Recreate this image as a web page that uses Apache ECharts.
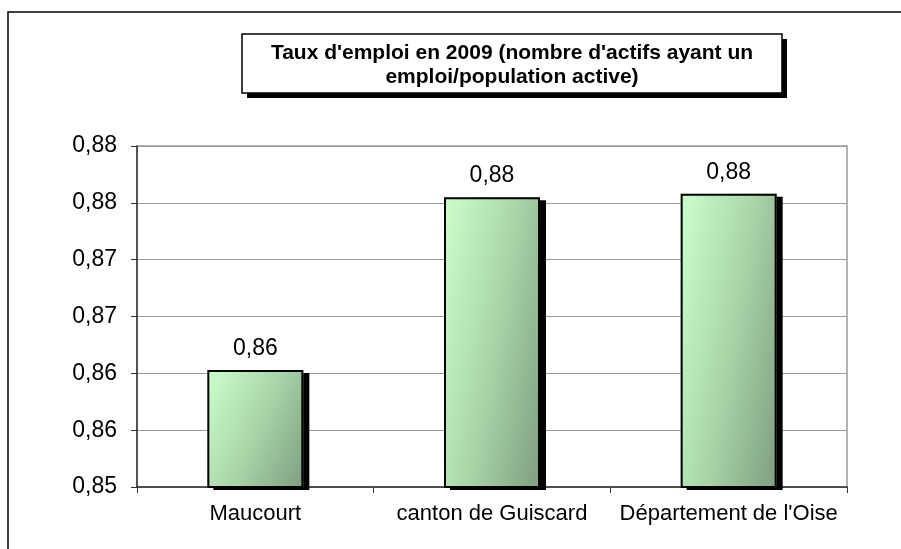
<!DOCTYPE html>
<html>
<head>
<meta charset="utf-8">
<script src="https://cdn.jsdelivr.net/npm/echarts@6/dist/echarts.min.js"></script>
<style>
  html, body { margin: 0; padding: 0; background: #fff; }
  #chart { width: 901px; height: 549px; }
</style>
</head>
<body>
<div id="chart"></div>
<script>
// données
const categories = ["Maucourt", "canton de Guiscard", "Département de l'Oise"];
const tauxEmploi = [0.8603, 0.8755, 0.8758];
const titleLines = ["Taux d'emploi en 2009 (nombre d'actifs ayant un", "emploi/population active)"];

const Y_MIN = 0.85;
const Y_MAX = 0.88;
const BAR_W = 96;
const PLOT_H = 341;

const fmt = function (v) {
  return (Math.round(v * 100 + 1e-6) / 100).toFixed(2).replace('.', ',');
};

const font = 'Liberation Sans, Arial, sans-serif';

// dégradé diagonal : clair en haut à gauche, foncé en bas à droite,
// surtout dans le sens horizontal (t ≈ 0.65*x + 0.35*y)
function barGradient(v) {
  let h = Math.max(10, (v - Y_MIN) / (Y_MAX - Y_MIN) * PLOT_H);
  let a = 0.65 / BAR_W;
  let b = 0.35 / h;
  let n = a * a + b * b;
  let dx = (a / n) / BAR_W;
  let dy = (b / n) / h;
  return new echarts.graphic.LinearGradient(0, 0, dx, dy, [
    { offset: 0, color: '#ccffcc' },
    { offset: 0.5, color: '#a9d6a9' },
    { offset: 1, color: '#7f9e7f' }
  ]);
}

let myChart = echarts.init(document.getElementById('chart'), null, { renderer: 'canvas' });

let option = {
  animation: false,
  backgroundColor: '#fff',
  graphic: [
    {
      type: 'rect',
      shape: { x: 8, y: 12, width: 1000, height: 1000 },
      style: { fill: 'none', stroke: '#000', lineWidth: 1.5 },
      z: 0
    },
    // ombre du cadre du titre
    {
      type: 'rect',
      shape: { x: 247, y: 39, width: 540, height: 59 },
      style: { fill: '#000' },
      z: 10
    },
    {
      type: 'rect',
      shape: { x: 242, y: 34, width: 540, height: 59 },
      style: { fill: '#fff', stroke: '#000', lineWidth: 1.5 },
      z: 11
    },
    {
      type: 'text',
      x: 512,
      y: 41,
      style: {
        text: titleLines.join('\n'),
        font: 'bold 21px ' + font,
        fill: '#000',
        align: 'center',
        lineHeight: 24
      },
      z: 12
    }
  ],
  grid: {
    left: 137,
    right: 54,
    top: 146,
    bottom: 62,
    show: true,
    borderColor: '#999',
    borderWidth: 1.5
  },
  xAxis: {
    type: 'category',
    data: categories,
    axisLine: { lineStyle: { color: '#333', width: 1.5 } },
    axisTick: { show: true, length: 6, alignWithLabel: false, lineStyle: { color: '#333' } },
    axisLabel: { color: '#000', fontSize: 22, fontFamily: font, margin: 16, interval: 0 }
  },
  yAxis: {
    type: 'value',
    min: Y_MIN,
    max: Y_MAX,
    interval: 0.005,
    axisLine: { show: true, lineStyle: { color: '#333', width: 1.5 } },
    axisTick: { show: true, length: 6, lineStyle: { color: '#333' } },
    splitLine: { lineStyle: { color: '#999', width: 1 } },
    axisLabel: { color: '#000', fontSize: 23, fontFamily: font, margin: 20, formatter: fmt }
  },
  series: [
    {
      // remplissage + ombre
      type: 'bar',
      data: tauxEmploi.map(function (v) {
        return { value: v, itemStyle: { color: barGradient(v) } };
      }),
      barWidth: BAR_W,
      itemStyle: {
        shadowColor: '#000',
        shadowOffsetX: 6,
        shadowOffsetY: 3,
        shadowBlur: 0
      },
      label: {
        show: true,
        position: 'top',
        distance: 10,
        color: '#000',
        fontSize: 23,
        fontFamily: font,
        formatter: function (p) { return fmt(p.value); }
      }
    },
    {
      // contour noir
      type: 'bar',
      data: tauxEmploi,
      barWidth: BAR_W,
      barGap: '-100%',
      silent: true,
      itemStyle: {
        color: 'rgba(0,0,0,0)',
        borderColor: '#000',
        borderWidth: 2
      }
    }
  ]
};

myChart.setOption(option);
window.addEventListener('resize', function () {
  myChart.resize();
});
</script>
</body>
</html>
